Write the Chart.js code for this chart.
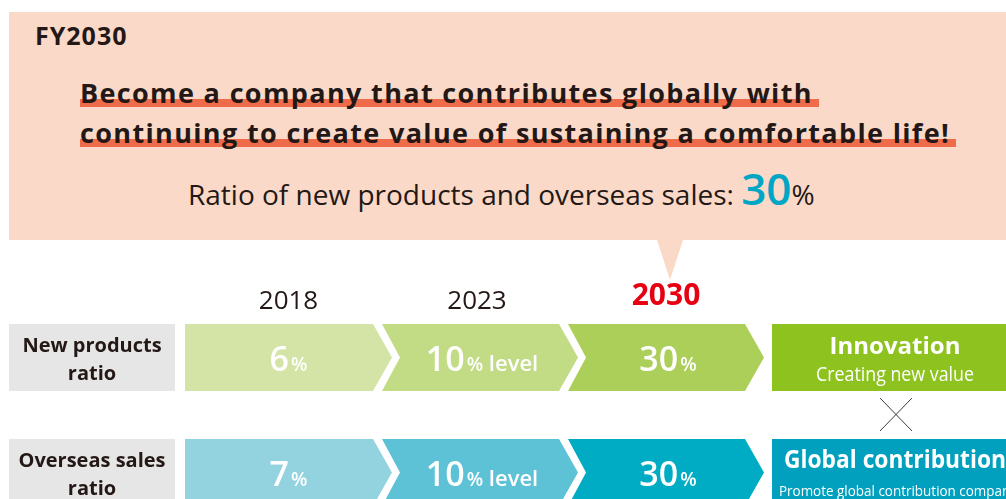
<!DOCTYPE html>
<html>
<head>
<meta charset="utf-8">
<script src="https://cdn.jsdelivr.net/npm/chart.js@4.4.0/dist/chart.umd.min.js"></script>
<style>
  body { margin: 0; width: 1006px; height: 499px; overflow: hidden; background: #fff;
         font-family: "Open Sans", "Noto Sans", sans-serif; color: #231815; position: relative; }
  #stage { position: absolute; left: 0; top: 0; }
  .head { position: absolute; left: 9px; top: 12px; width: 997px; height: 228px; background: #FAD9C8; }
  .pointer { position: absolute; left: 657px; top: 240px; width: 0; height: 0;
             border-left: 13px solid transparent; border-right: 13px solid transparent;
             border-top: 40px solid #FAD9C8; }
  .fy { position: absolute; left: 35px; top: 18px; font-weight: 700; font-size: 25px; letter-spacing: 1px; }
  .line { position: absolute; left: 80px; font-weight: 700; font-size: 27px; white-space: nowrap; letter-spacing: 1.35px; }
  .line span { background: linear-gradient(to bottom, transparent 68%, #EE6C4A 68%, #EE6C4A 88%, transparent 88%); padding-right: 6px; }
  .ratio { position: absolute; left: 188px; top: 158px; font-size: 28px; white-space: nowrap; letter-spacing: 0; }
  .ratio b { color: #00A7C4; font-size: 44px; font-weight: 600; }
</style>
</head>
<body>
<canvas id="stage" width="1006" height="499"></canvas>
<div class="head">
</div>
<div class="pointer"></div>
<div class="fy">FY2030</div>
<div class="line" style="top:74px"><span>Become a company that contributes globally with</span></div>
<div class="line" style="top:114px"><span>continuing to create value of sustaining a comfortable life!</span></div>
<div class="ratio">Ratio of new products and overseas sales: <b>30</b>%</div>

<script>
// stages and rows
const years = ['2018', '2023', '2030'];
const rows = ['New products ratio', 'Overseas sales ratio'];
const rowLines = [['New products', 'ratio'], ['Overseas sales', 'ratio']];

// values shown in the arrows
const newProducts = [6, 10, 30];
const overseasSales = [7, 10, 30];
const suffixes = ['%', '% level', '%'];

// right side boxes
const themes = ['Innovation', 'Global contribution'];
const themeSubs = ['Creating new value', 'Promote global contribution company'];

const greens = ['#D3E4A6', '#C2DB85', '#ABCF58'];
const blues = ['#93D2DF', '#5DC2D5', '#00ACC4'];
const themeColors = ['#8DC21F', '#00A0BE'];

const FONT = '"Open Sans", "Noto Sans", sans-serif';

const chevronPlugin = {
  id: 'chevrons',
  beforeDatasetsDraw() {
    return false;
  },
  afterDraw(chart) {
    const ctx = chart.ctx;
    const x = chart.scales.x;
    const y = chart.scales.y;
    ctx.save();

    // year labels over the stages
    years.forEach((yr, i) => {
      const left = x.getPixelForValue(i) - (i === 0 ? 11 : 0);
      const cx = (left + x.getPixelForValue(i + 1) + 10) / 2 - (i === 1 ? 3 : 0);
      ctx.textAlign = 'center';
      ctx.textBaseline = 'alphabetic';
      if (i === years.length - 1) {
        ctx.fillStyle = '#E60012';
        ctx.font = '700 30px ' + FONT;
        ctx.fillText(yr, cx, 305);
      } else {
        ctx.fillStyle = '#231815';
        ctx.font = '400 26px ' + FONT;
        ctx.fillText(yr, cx, 309);
      }
    });

    // arrows
    chart.data.datasets.forEach((ds, i) => {
      const meta = chart.getDatasetMeta(i);
      meta.data.forEach((el, r) => {
        const h = el.height;
        const top = el.y - h / 2, bot = el.y + h / 2;
        const L = el.base, R = el.x;
        const tip = R + 10, flat = tip - 19;
        ctx.beginPath();
        if (i === 0) {
          ctx.moveTo(L - 11, top);
          ctx.lineTo(flat, top);
          ctx.lineTo(tip, el.y);
          ctx.lineTo(flat, bot);
          ctx.lineTo(L - 11, bot);
        } else {
          ctx.moveTo(L, top);
          ctx.lineTo(flat, top);
          ctx.lineTo(tip, el.y);
          ctx.lineTo(flat, bot);
          ctx.lineTo(L, bot);
          ctx.lineTo(L + 18, el.y);
        }
        ctx.closePath();
        ctx.fillStyle = ds.backgroundColor[r];
        ctx.fill();

        // value text
        const left = i === 0 ? L - 11 : L + 4;
        const cx = (left + tip) / 2;
        const num = String(ds.values[r]);
        const suf = ds.suffix;
        ctx.font = '600 34px ' + FONT;
        const wNum = ctx.measureText(num).width;
        ctx.font = '600 19px ' + FONT;
        const wPct = ctx.measureText('%').width;
        let wLev = 0;
        if (suf.length > 1) {
          ctx.font = '600 22px ' + FONT;
          wLev = ctx.measureText(' level').width;
        }
        let sx = cx - (wNum + 2 + wPct + wLev) / 2;
        const base = el.y + 13;
        ctx.fillStyle = '#fff';
        ctx.textAlign = 'left';
        ctx.font = '600 34px ' + FONT;
        ctx.fillText(num, sx, base);
        sx += wNum + 2;
        ctx.font = '600 19px ' + FONT;
        ctx.fillText('%', sx, base);
        sx += wPct;
        if (wLev) {
          ctx.font = '600 22px ' + FONT;
          ctx.fillText(' level', sx, base);
        }
      });
    });

    // row labels (grey) and themes (right)
    rows.forEach((row, r) => {
      const cy = y.getPixelForValue(r);
      ctx.fillStyle = '#E6E6E6';
      ctx.fillRect(9, cy - 33.5, 166, 67);
      ctx.fillStyle = '#231815';
      ctx.font = '700 20px ' + FONT;
      ctx.textAlign = 'center';
      ctx.fillText(rowLines[r][0], 92, cy - 6, 160);
      ctx.fillText(rowLines[r][1], 92, cy + 22, 160);

      ctx.fillStyle = themeColors[r];
      ctx.fillRect(772, cy - 33.5, 234, 67);
      ctx.save();
      ctx.beginPath();
      ctx.rect(772, cy - 33.5, 234, 67);
      ctx.clip();
      ctx.fillStyle = '#fff';
      if (r === 0) {
        ctx.textAlign = 'center';
        ctx.font = '700 24px ' + FONT;
        ctx.fillText(themes[r], 895, cy - 4);
        ctx.font = '400 20px ' + FONT;
        ctx.fillText(themeSubs[r], 895, cy + 23, 158);
      } else {
        ctx.textAlign = 'left';
        ctx.font = '700 25px ' + FONT;
        ctx.fillText(themes[r], 784, cy - 5, 222);
        ctx.font = '400 15px ' + FONT;
        ctx.fillText(themeSubs[r], 779, cy + 23, 238);
      }
      ctx.restore();
    });

    // cross between the two themes
    ctx.strokeStyle = '#3E3A39';
    ctx.lineWidth = 1;
    ctx.beginPath();
    ctx.moveTo(880, 398); ctx.lineTo(912, 431);
    ctx.moveTo(912, 398); ctx.lineTo(880, 431);
    ctx.stroke();
    ctx.restore();
  }
};

new Chart(document.getElementById('stage'), {
  type: 'bar',
  data: {
    labels: rows,
    datasets: years.map((yr, i) => ({
      label: yr,
      data: rows.map(() => [i, i + 1]),
      values: [newProducts[i], overseasSales[i]],
      suffix: suffixes[i],
      backgroundColor: [greens[i], blues[i]]
    }))
  },
  options: {
    indexAxis: 'y',
    responsive: false,
    animation: false,
    layout: { padding: { left: 196, right: 252, top: 357.5, bottom: 26.5 } },
    datasets: { bar: { grouped: false, barThickness: 67 } },
    scales: {
      x: { type: 'linear', min: 0, max: years.length, display: false },
      y: { type: 'category', offset: false, display: false }
    },
    plugins: { legend: { display: false }, tooltip: { enabled: false } }
  },
  plugins: [chevronPlugin]
});
</script>
</body>
</html>
